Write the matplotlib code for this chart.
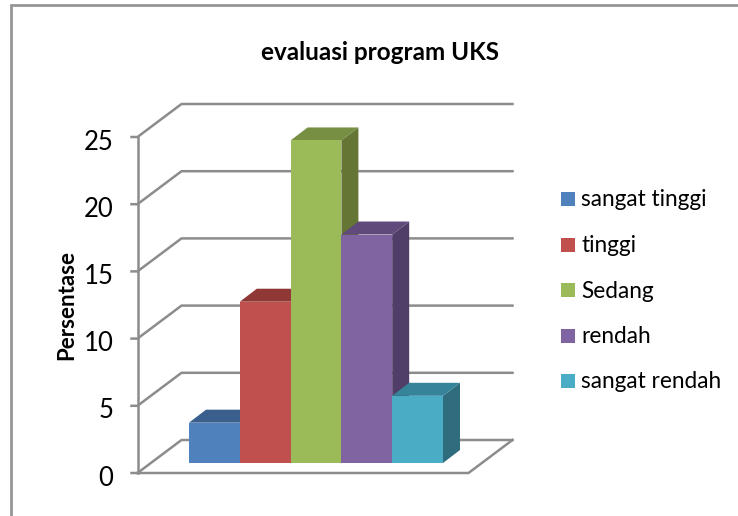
#!/usr/bin/env python3
import matplotlib.pyplot as plt
from matplotlib.patches import Polygon, Rectangle

categories = ["sangat tinggi", "tinggi", "Sedang", "rendah", "sangat rendah"]
values = [3, 12, 24, 17, 5]
y_ticks = [0, 5, 10, 15, 20, 25]

FRONT = ["#4f81bd", "#c0504d", "#9bbb59", "#8064a2", "#4bacc6"]
TOP = ["#3a5f8c", "#8f3836", "#778f42", "#604a7b", "#36849a"]
SIDE = ["#2f4f75", "#77302e", "#647534", "#513e68", "#2f6c7d"]
GRID = "#8c8c8c"

W, H = 738, 516
BAR_PX = 50.8
UNIT_PX = 13.44
X0_PX, Y0_PX = 189, 463

plt.rcParams["font.family"] = ["Lato", "DejaVu Sans"]

fig = plt.figure(figsize=(W / 100, H / 100), dpi=100)
ax = fig.add_axes([0, 0, 1, 1])
ax.set_xlim(-X0_PX / BAR_PX, (W - X0_PX) / BAR_PX)
ax.set_ylim((Y0_PX - H) / UNIT_PX, Y0_PX / UNIT_PX)
ax.axis("off")

# bar depth and wall offsets, in data units
dx, dy = 17 / BAR_PX, 13 / UNIT_PX
wall_dx, wall_dy = 44 / BAR_PX, 33 / UNIT_PX
front_x = (137.5 - X0_PX) / BAR_PX
front_y = (Y0_PX - 473) / UNIT_PX
floor_w = 331 / BAR_PX


def px_x(px):
    return (px - X0_PX) / BAR_PX


def px_y(px):
    return (Y0_PX - px) / UNIT_PX


# outer chart frame, only top and left are visible in the crop
ax.plot(
    [px_x(11), px_x(11), px_x(738)],
    [px_y(516), px_y(5), px_y(5)],
    color="#969696",
    lw=2,
    solid_joinstyle="miter",
)

# walls and gridlines
for v in y_ticks:
    y = front_y + v
    right = front_x + wall_dx + floor_w
    ax.plot(
        [front_x - 6 / BAR_PX, front_x, front_x + wall_dx, right],
        [y, y, y + wall_dy, y + wall_dy],
        color=GRID,
        lw=1.8,
        zorder=1,
    )
    ax.text(
        front_x - 24 / BAR_PX,
        y - 5 / UNIT_PX,
        str(v),
        ha="right",
        va="center",
        fontsize=18.5,
        color="black",
    )

# front axis and floor edges
ax.plot([front_x, front_x], [front_y, front_y + 25], color=GRID, lw=1.8, zorder=1)
ax.plot(
    [front_x, front_x + floor_w, front_x + floor_w + wall_dx],
    [front_y, front_y, front_y + wall_dy],
    color=GRID,
    lw=1.8,
    zorder=1,
)

# bars, left to right so each one covers the neighbour's side face
for i, v in enumerate(values):
    side = [(i + 1, 0), (i + 1 + dx, dy), (i + 1 + dx, v + dy), (i + 1, v)]
    top = [(i, v), (i + dx, v + dy), (i + 1 + dx, v + dy), (i + 1, v)]
    ax.add_patch(Polygon(side, fc=SIDE[i], ec="none", zorder=2 + i))
    ax.add_patch(Polygon(top, fc=TOP[i], ec="none", zorder=2 + i))
    ax.add_patch(Rectangle((i, 0), 1, v, fc=FRONT[i], ec="none", zorder=2 + i))

# title and axis label
ax.text(
    px_x(380),
    px_y(53),
    "evaluasi program UKS",
    ha="center",
    va="center",
    fontsize=17.5,
    fontweight="bold",
)
ax.text(
    px_x(67),
    px_y(305),
    "Persentase",
    ha="center",
    va="center",
    rotation=90,
    fontsize=16,
    fontweight="bold",
)

# legend
for i, name in enumerate(categories):
    y_px = 199 + i * 45.5
    ax.add_patch(
        Rectangle(
            (px_x(561), px_y(y_px + 7)),
            14 / BAR_PX,
            14 / UNIT_PX,
            fc=FRONT[i],
            ec="none",
        )
    )
    ax.text(px_x(581), px_y(y_px + 1), name, ha="left", va="center", fontsize=16.3)

fig.savefig("out.png", dpi=100)
